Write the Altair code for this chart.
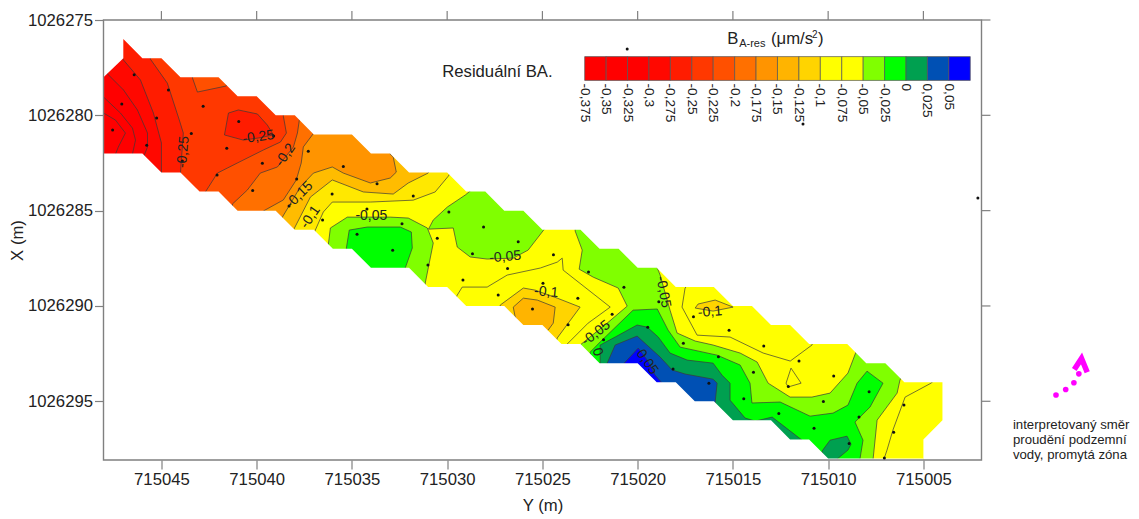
import altair as alt
import pandas as pd

# ---- coordinate bases: values below are metres east of X0 and south of Y0
X0 = 715000
Y0 = 1026270
A_L, A_R, B_T, B_B = 48.04, 1.95, 5.0, 28.08

X_TICKS = [715045, 715040, 715035, 715030, 715025, 715020, 715015, 715010, 715005]
Y_TICKS = [1026275, 1026280, 1026285, 1026290, 1026295]

LEVELS = [-0.375, -0.35, -0.325, -0.3, -0.275, -0.25, -0.225, -0.2, -0.175, -0.15,
          -0.125, -0.1, -0.075, -0.05, -0.025, 0, 0.025, 0.05]
LEVEL_LABELS = ["-0,375", "-0,35", "-0,325", "-0,3", "-0,275", "-0,25", "-0,225", "-0,2", "-0,175",
                "-0,15", "-0,125", "-0,1", "-0,075", "-0,05", "-0,025", "0", "0,025", "0,05"]
COLORS = ["#ff0000", "#ff0000", "#ff0000", "#ff0800", "#ff1c00", "#ff3800", "#ff5000", "#ff7000", "#ff9400",
          "#ffb400", "#ffd400", "#ffff00", "#ffff00", "#80ff00", "#00ff00", "#00a050", "#0050b4", "#0000ff"]
SWEEP_COLORS = ["#ff0000", "#ff0000", "#ff0800", "#ff1c00", "#ff3800", "#ff5000", "#ff7000", "#ff9400",
                "#ffbc00", "#ffe800", "#ffff00"]

# boundary of the surveyed strip
OUT_TOP = [(48.04, 8), (47, 7), (47, 6), (46, 7), (45, 7), (44, 8), (42, 8), (41, 9), (40, 9), (39, 10), (38, 10),
           (37, 11), (35, 11), (34, 12), (33, 12), (32, 13), (30, 13), (29, 14), (28, 14), (27, 15), (26, 15),
           (25, 16), (23, 16), (22, 17), (21, 17), (20, 18), (19, 18), (18, 19), (16, 19), (15, 20), (14, 20),
           (13, 21), (12, 21), (11, 22), (9, 22), (8, 23), (7, 23), (6, 24), (4, 24), (4, 26), (5, 27), (5, 28)]
OUT_LOW = [(48.04, 12), (46, 12), (45, 13), (44, 13), (43, 14), (42, 14), (41, 15), (39, 15), (38, 16), (37, 16),
           (36, 17), (35, 17), (34, 18), (32, 18), (31, 19), (30, 19), (29, 20), (27, 20), (26, 21), (25, 21),
           (24, 22), (23, 22), (22, 23), (20, 23), (19, 24), (18, 24), (17, 25), (16, 25), (15, 26), (13, 26),
           (12, 27), (11, 27), (10, 28), (5, 28)]

# contours that sweep across the strip: all ground to the east is above the level
C1 = [(48.04, 9.88), (47.41, 10.25), (46.89, 10.93), (47.26, 11.66), (47.41, 12.03)]
C2 = [(48.04, 9.04), (47.15, 9.88), (46.52, 10.67), (46.36, 11.30), (46.52, 12.03)]
C3 = [(47.83, 7.83), (46.99, 8.67), (46.26, 9.72), (45.73, 10.93), (45.73, 11.66), (45.94, 12.19)]
C4 = [(47.26, 6.57), (46.99, 7.10), (46.10, 8.15), (45.42, 9.88), (45.00, 11.45), (45.00, 13.03)]
C5 = [(45.58, 6.31), (45.58, 7.05), (44.69, 8.31), (44.06, 10.25), (43.85, 10.93), (44.00, 13.03)]
C6 = [(38.60, 9.20), (38.60, 10.04), (38.44, 10.93), (38.75, 11.40), (39.65, 11.82), (41.01, 12.50), (42.06, 13.03),
      (42.69, 14.02), (42.69, 14.44)]
C7 = [(37.76, 9.20), (37.76, 10.25), (37.86, 10.93), (38.07, 11.66), (38.91, 12.71), (39.81, 13.03), (40.49, 13.92),
      (41.27, 14.65), (41.27, 15.23)]
C8 = [(36.66, 10.51), (37.08, 11.03), (37.55, 11.66), (37.66, 12.50), (37.92, 13.39), (38.60, 14.44), (39.65, 15.02),
      (39.65, 15.76)]
C9 = [(32.88, 11.30), (32.99, 12.03), (32.83, 12.19), (32.67, 12.98), (32.99, 13.29), (34.03, 13.55), (35.45, 13.03),
      (36.03, 12.71), (37.02, 13.03), (37.71, 13.76), (38.65, 15.34), (38.65, 16.28)]
C10 = [(30.63, 12.35), (31.00, 13.03), (32.04, 13.55), (32.83, 14.13), (34.40, 14.02), (36.03, 13.39), (37.18, 14.29),
       (38.07, 16.02), (38.49, 16.54)]
C11 = [(29.57, 12.61), (29.94, 13.19), (30.63, 14.02), (31.78, 14.45), (34.03, 14.55), (36.03, 14.55), (36.50, 15.07),
       (36.92, 16.02), (37.18, 16.80)]

# closed patches, painted in this order after the sweeps
LOW_BLOB = [(41.69, 11.03), (41.48, 9.88), (40.96, 9.72), (39.96, 9.93), (39.44, 10.51), (39.12, 11.03), (39.91, 11.19),
            (40.70, 11.30)]
POCKET = [(43.37, 7.62), (43.37, 8.04), (43.11, 8.78), (41.59, 8.46), (41.59, 7.62)]
YELLOW_L6 = [(29.47, 19.43), (29.21, 19.01), (27.90, 19.01), (26.85, 18.38), (25.11, 18.01), (24.22, 17.70),
             (23.96, 17.49), (23.91, 18.12), (21.44, 20.06), (22.60, 20.90), (23.75, 22.05), (23.75, 22.84),
             (27.21, 21.27), (29.84, 20.22)]
GOLD1 = [(27.21, 19.95), (26.00, 19.06), (25.38, 19.17), (24.22, 19.59), (23.02, 20.06), (24.22, 21.68), (24.33, 22.10),
         (24.33, 22.58), (26.16, 21.79), (27.37, 20.74)]
GOLD2 = [(26.53, 20.06), (26.00, 19.59), (25.27, 19.69), (24.33, 20.06), (24.43, 20.90), (24.70, 21.27), (25.11, 21.53),
         (25.90, 21.53), (26.43, 20.58)]
YELLOW_L2 = [(17.51, 19.06), (17.67, 20.06), (16.88, 21.53), (15.15, 21.63), (13.41, 22.47), (11.99, 22.89),
             (10.85, 22.05), (10.69, 21.53), (13.57, 19.17), (16.72, 18.12)]
GOLD3 = [(16.98, 20.11), (16.83, 19.90), (15.93, 19.69), (14.99, 20.06), (16.04, 20.27)]
TRIANGLE = [(11.95, 23.26), (11.42, 24.05), (12.10, 24.25), (12.21, 24.05)]
YELLOW_L7 = [(4.60, 24.05), (5.96, 24.78), (6.60, 26.51), (6.91, 27.56), (7.07, 28.03), (7.07, 28.5), (3.08, 28.5),
             (3.08, 23.63), (4.13, 23.63)]
GREEN_A = [(36.24, 16.80), (36.13, 15.91), (35.24, 15.34), (34.56, 15.34), (32.98, 15.34), (32.04, 15.39),
           (31.04, 15.91), (30.73, 16.70), (31.15, 18.80), (31.15, 19.69), (36.24, 19.69)]
LIME_A = [(35.29, 16.96), (35.14, 16.02), (34.19, 15.86), (32.46, 15.86), (31.88, 16.12), (31.83, 16.96), (32.20, 18.01),
          (32.20, 18.90), (35.08, 18.90)]
GREEN_B = [(30.98, 15.97), (30.73, 15.49), (29.99, 14.81), (29.05, 14.18), (28.53, 13.76), (28.00, 12.87), (24.07, 12.87),
           (24.85, 15.91), (25.75, 17.07), (26.53, 17.49), (27.90, 17.54), (28.79, 17.43), (29.47, 16.91), (29.68, 15.91)]
GREEN_C = [(23.28, 15.49), (23.28, 16.07), (22.91, 17.07), (23.07, 18.07), (22.33, 18.49), (21.02, 19.06), (20.55, 20.01),
           (21.60, 20.90), (23.02, 22.05), (23.28, 23.36), (19.87, 24.94), (15.67, 27.04), (11.47, 28.6), (7.64, 28.6),
           (7.64, 28.03), (7.43, 25.99), (6.38, 24.57), (6.23, 23.89), (5.96, 23.36), (8.59, 22.31), (8.54, 22.42),
           (8.96, 23.52), (9.90, 24.57), (10.85, 24.78), (12.00, 24.78), (13.15, 24.05), (13.73, 22.94), (14.62, 22.47),
           (16.04, 22.05), (16.98, 21.84), (17.93, 21.42), (18.30, 20.22), (18.82, 18.38), (19.34, 17.07)]
LIME_C = [(22.49, 22.42), (21.97, 21.89), (20.24, 20.22), (18.97, 20.16), (18.40, 21.27), (17.77, 22.16), (15.83, 22.58),
          (14.62, 23.10), (14.10, 24.05), (14.00, 25.09), (12.52, 25.04), (10.95, 25.78), (9.74, 25.62), (8.96, 25.20),
          (8.48, 24.05), (7.96, 23.42), (7.12, 24.05), (7.80, 25.30), (8.59, 26.09), (8.17, 27.04), (8.33, 28.03),
          (8.33, 28.6), (11.47, 28.6), (15.67, 27.04), (19.87, 24.94), (22.49, 23.36)]
SEA_C = [(21.97, 23.0), (21.97, 22.05), (21.18, 21.63), (20.03, 21.0), (19.50, 21.11), (18.92, 21.63), (18.30, 22.47),
         (17.40, 22.84), (16.04, 23.0), (15.57, 23.63), (15.15, 24.05), (15.15, 24.94), (14.36, 25.88), (13.83, 26.04),
         (12.94, 25.83), (11.37, 27.04), (11.37, 28.6), (15.67, 27.04), (19.87, 24.94), (22.07, 23.63)]
SEA_D = [(10.32, 27.61), (9.90, 27.04), (9.01, 26.83), (8.80, 27.25), (8.96, 27.56), (9.53, 28.03), (10.16, 28.6)]
BLUE_A = [(21.60, 23.0), (21.18, 22.05), (20.03, 21.58), (18.82, 22.68), (18.19, 23.36), (17.51, 23.57), (16.04, 23.84),
          (15.83, 24.05), (15.93, 25.04), (15.93, 25.99), (19.87, 24.68), (21.60, 23.89)]
BLUE_B = [(20.71, 23.0), (19.97, 22.21), (19.50, 22.84), (19.08, 23.63), (18.71, 24.05), (18.71, 24.94), (20.71, 24.15)]

DOTS = [(46.43, 7.87), (47.08, 9.41), (47.56, 10.77), (45.25, 10.14), (45.77, 11.57), (44.63, 8.67), (42.81, 9.53),
        (40.94, 10.32), (43.43, 10.95), (41.57, 11.73), (39.11, 11.09), (39.70, 12.52), (42.08, 13.13), (40.21, 13.94),
        (43.90, 12.40), (37.29, 11.89), (35.45, 12.68), (33.68, 13.59), (37.90, 13.34), (38.30, 14.76), (36.04, 14.13),
        (36.54, 15.49), (34.21, 14.92), (34.73, 16.24), (31.78, 14.23), (32.37, 15.69), (32.86, 17.08), (31.01, 17.85),
        (30.52, 16.45), (29.91, 15.07), (28.09, 15.86), (26.27, 16.63), (28.67, 17.26), (26.83, 18.03), (24.42, 17.31),
        (29.17, 18.64), (27.32, 19.43), (24.97, 18.81), (25.52, 20.16), (23.14, 19.59), (23.65, 20.99), (22.58, 18.22),
        (20.72, 19.02), (18.89, 19.78), (21.34, 20.43), (21.79, 21.77), (19.47, 21.12), (17.07, 20.57), (15.20, 21.27),
        (13.38, 22.10), (11.53, 22.89), (17.60, 21.95), (15.76, 22.67), (13.92, 23.48), (12.09, 24.22), (18.14, 23.31),
        (16.26, 24.06), (14.43, 24.87), (12.59, 25.64), (9.71, 23.68), (10.25, 25.01), (7.85, 24.50), (8.38, 25.83),
        (10.74, 26.42), (8.90, 27.21), (6.02, 25.20), (6.56, 26.63), (7.05, 27.97), (20.55, 6.52), (11.32, 10.46),
        (2.14, 14.34)]

CONTOUR_LABELS = [("-0,25", 39.91, 11.14, 352), ("-0,25", 43.85, 11.93, 275), ("-0,2", 38.49, 12.08, 305),
                  ("-0,15", 37.76, 14.18, 315), ("-0,1", 37.18, 15.34, 305), ("-0,05", 33.98, 15.28, 0),
                  ("-0,05", 26.95, 17.43, 355), ("-0,1", 24.80, 19.27, 5), ("-0,05", 22.18, 21.42, 322),
                  ("0", 22.12, 22.42, 70), ("-0,05", 18.66, 19.27, 80), ("-0,1", 16.20, 20.32, 355),
                  ("0,05", 19.50, 22.94, 55)]

ARROW_DOTS = [(-1.96, 24.67), (-2.47, 24.38), (-2.90, 24.03), (-3.16, 23.56)]
ARROW_HEAD = [(-2.92, 23.33), (-3.30, 22.75), (-3.60, 23.48)]

# legend geometry, metres on the map
LEG_LEFT, LEG_STEP, LEG_TOP, LEG_BOTTOM, LEG_LABEL = 22.78, 1.1245, 6.92, 8.17, 8.33
FONT = "Liberation Sans"
INK = "#222222"
LINE = "#3a3a3a"
GREY = "#808080"

xs = alt.Scale(domain=[X0 + A_L, X0 + A_R], nice=False, zero=False)
ys = alt.Scale(domain=[Y0 + B_B, Y0 + B_T], nice=False, zero=False)
x_axis = alt.Axis(values=X_TICKS, format="d", grid=False, domain=False, tickSize=9, tickColor=GREY, tickWidth=1.2,
                  labelFont=FONT, labelFontSize=16.7, labelColor=INK, labelPadding=2, title="Y (m)", titleFont=FONT,
                  titleFontSize=16.7, titleFontWeight="normal", titleColor=INK, titlePadding=10)
y_axis = alt.Axis(values=Y_TICKS, format="d", grid=False, domain=False, tickSize=9, tickColor=GREY, tickWidth=1.2,
                  labelFont=FONT, labelFontSize=16.7, labelColor=INK, labelPadding=2, title="X (m)", titleFont=FONT,
                  titleFontSize=16.7, titleFontWeight="normal", titleColor=INK, titlePadding=1)


def ex(field="x"):
    return alt.X(f"{field}:Q", scale=xs, axis=x_axis)


def ey(field="y"):
    return alt.Y(f"{field}:Q", scale=ys, axis=y_axis)


def frame(points):
    return pd.DataFrame([{"x": X0 + a, "y": Y0 + b, "i": i} for i, (a, b) in enumerate(points)])


def sweep(path):
    return path + [(path[-1][0], B_B + 1), (A_R, B_B + 1), (A_R, B_T), (path[0][0], B_T)]


def patch(points, fill, stroke=True):
    style = {"stroke": LINE, "strokeWidth": 0.7} if stroke else {"strokeWidth": 0, "strokeOpacity": 0}
    return alt.Chart(frame(points)).mark_line(interpolate="linear-closed", fill=fill, clip=True, **style).encode(
        x=ex(), y=ey(), order="i:Q")


layers = []
layers.append(patch([(A_L, B_T), (A_R, B_T), (A_R, B_B), (A_L, B_B)], COLORS[0], stroke=False))
for path, color in zip([C1, C2, C3, C4, C5, C6, C7, C8, C9, C10, C11], SWEEP_COLORS):
    layers.append(patch(sweep(path), color))
for pts, color in [(LOW_BLOB, COLORS[4]), (POCKET, COLORS[6]), (YELLOW_L6, COLORS[11]), (GOLD1, COLORS[10]),
                   (GOLD2, COLORS[9]), (YELLOW_L2, COLORS[11]), (GOLD3, COLORS[10]), (TRIANGLE, COLORS[11]),
                   (YELLOW_L7, COLORS[11]), (GREEN_A, COLORS[13]), (LIME_A, COLORS[14]), (GREEN_B, COLORS[13]),
                   (GREEN_C, COLORS[13]), (LIME_C, COLORS[14]), (SEA_C, COLORS[15]), (SEA_D, COLORS[15]),
                   (BLUE_A, COLORS[16]), (BLUE_B, COLORS[17])]:
    layers.append(patch(pts, color))

# white ground outside the strip
layers.append(patch(OUT_TOP + [(5, 28.1), (A_R, 28.1), (A_R, B_T), (A_L, B_T)], "white", stroke=False))
layers.append(patch(OUT_LOW + [(5, 28.1), (A_L, 28.1)], "white", stroke=False))

# plot frame and the unlabelled ticks on the top and right edges
frame_df = pd.DataFrame({"x": [X0 + A_L], "x2": [X0 + A_R], "y": [Y0 + B_T], "y2": [Y0 + B_B]})
layers.append(alt.Chart(frame_df).mark_rect(filled=False, stroke=GREY, strokeWidth=1.4).encode(
    x=ex(), x2="x2:Q", y=ey(), y2="y2:Q"))
top_df = pd.DataFrame({"x": X_TICKS, "y": Y0 + B_T, "y2": Y0 + B_T - 0.47})
layers.append(alt.Chart(top_df).mark_rule(stroke=GREY, strokeWidth=1.2).encode(x=ex(), y=ey(), y2="y2:Q"))
right_df = pd.DataFrame({"x": X0 + A_R, "x2": X0 + A_R - 0.47, "y": Y_TICKS})
layers.append(alt.Chart(right_df).mark_rule(stroke=GREY, strokeWidth=1.2).encode(x=ex(), x2="x2:Q", y=ey()))

# survey points
layers.append(alt.Chart(frame(DOTS)).mark_circle(color="#111111", size=9, opacity=1).encode(x=ex(), y=ey()))

# contour labels
label_df = pd.DataFrame([{"t": t, "x": X0 + a, "y": Y0 + b, "ang": r} for t, a, b, r in CONTOUR_LABELS])
layers.append(alt.Chart(label_df).mark_text(font=FONT, fontSize=14, color=INK, align="center", baseline="middle").encode(
    x=ex(), y=ey(), text="t:N", angle=alt.Angle("ang:Q", scale=None)))

# legend bar
leg_df = pd.DataFrame({"x": [X0 + LEG_LEFT - i * LEG_STEP for i in range(len(COLORS))],
                       "x2": [X0 + LEG_LEFT - (i + 1) * LEG_STEP for i in range(len(COLORS))],
                       "y": Y0 + LEG_TOP, "y2": Y0 + LEG_BOTTOM, "c": COLORS,
                       "lab": LEVEL_LABELS, "lvl": LEVELS, "ylab": Y0 + LEG_LABEL})
layers.append(alt.Chart(leg_df).mark_rect(stroke="#555555", strokeWidth=0.7).encode(
    x=ex(), x2="x2:Q", y=ey(), y2="y2:Q", fill=alt.Fill("c:N", scale=None)))
layers.append(alt.Chart(leg_df).mark_text(font=FONT, fontSize=13.7, color=INK, angle=90, align="left", baseline="middle").encode(
    x=ex(), y=ey("ylab"), text="lab:N"))

# free text pieces
TEXTS = [("Residuální BA.", 30.26, 7.98, 16.7), ("B", 15.30, 6.26, 16.7), ("A-res", 14.67, 6.42, 11),
         ("(\u03bcm/s", 13.0, 6.26, 16.7), ("2", 10.85, 5.94, 10), (")", 10.53, 6.26, 16.7),
         ("interpretovaný směr", 0.30, 26.47, 13.2), ("proudění podzemní", 0.30, 27.24, 13.2),
         ("vody, promytá zóna", 0.30, 28.01, 13.2)]
text_df = pd.DataFrame([{"t": t, "x": X0 + a, "y": Y0 + b, "s": s} for t, a, b, s in TEXTS])
layers.append(alt.Chart(text_df).mark_text(font=FONT, color=INK, align="left", baseline="alphabetic").encode(
    x=ex(), y=ey(), text="t:N", size=alt.Size("s:Q", scale=None, legend=None)))

# flow direction arrow
layers.append(alt.Chart(frame(ARROW_DOTS)).mark_circle(color="#ff00ff", size=32, opacity=1).encode(x=ex(), y=ey()))
layers.append(alt.Chart(frame(ARROW_HEAD)).mark_line(color="#ff00ff", strokeWidth=5.5, strokeJoin="miter", strokeCap="butt").encode(
    x=ex(), y=ey(), order="i:Q"))

chart = alt.layer(*layers).properties(
    width=878, height=440,
    autosize=alt.AutoSizeParams(type="none"),
    padding={"left": 95.5, "top": 12, "right": 149.5, "bottom": 59},
).configure_view(stroke=None)

chart.save("out.html", embed_options={"renderer": "svg", "actions": False})
